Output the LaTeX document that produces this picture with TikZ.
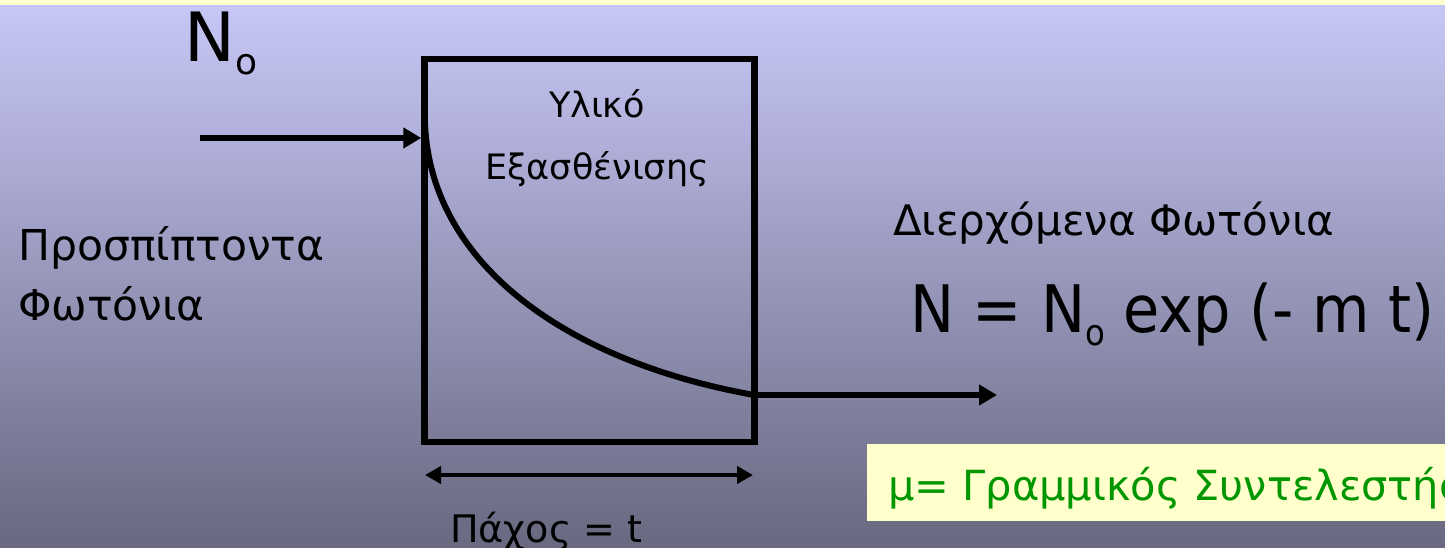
\documentclass[tikz,border=0pt]{standalone}
\usepackage{fontspec}
\setmainfont{DejaVu Sans}
\newfontfamily\condfont{DejaVu Sans Condensed}
\usetikzlibrary{arrows.meta}
\definecolor{bgtop}{RGB}{200,200,248}
\definecolor{bgbot}{RGB}{104,104,128}
\definecolor{paleyellow}{RGB}{255,255,204}
\definecolor{textgreen}{RGB}{0,150,0}
\tikzset{
  thick line/.style={line width=6.5pt, draw=black},
  arrowline/.style={line width=6pt, -{Triangle[length=18pt,width=20pt]}},
  dimline/.style={line width=4.5pt, {Triangle[length=16pt,width=17pt]}-{Triangle[length=16pt,width=17pt]}},
  lbl/.style={inner sep=0pt, anchor=base west, text=black},
  clbl/.style={inner sep=0pt, anchor=base, text=black},
}
\newcommand{\fs}[1]{\fontsize{#1}{#1}\selectfont}
\begin{document}
\begin{tikzpicture}[x=1pt,y=-1pt]
\useasboundingbox (0,0) rectangle (1445,548);
\clip (0,0) rectangle (1445,548);
\shade[top color=bgtop, bottom color=bgbot] (0,0) rectangle (1445,548);
\fill[paleyellow] (0,0) rectangle (1445,5);
% box
\node[thick line, minimum width=330pt, minimum height=383pt, inner sep=0pt] (box) at (589.5,250.5) {};
\node[clbl] (mat1) at (597,118) {\fs{35}Υλικό};
\node[clbl] (mat2) at (597,180) {\fs{35}Εξασθένισης};
% incoming
\node[lbl] (n0) at (184,62) {\fs{68}N\raisebox{-13pt}{\fs{36}o}};
\coordinate (in) at (200,138);
\draw[arrowline] (in) -- (in -| box.west);
\node[lbl] (inc1) at (18,260) {\fs{42.5}Προσπίπτοντα};
\node[lbl] (inc2) at (18,320) {\fs{42.5}Φωτόνια};
% curve
\coordinate (c0) at (425,123);
\coordinate (c1) at (754,395);
\coordinate (out) at (997,395);
\draw[line width=6pt] (c0) .. controls (430,260) and (560,360) .. (c1);
\draw[arrowline] (c1) -- (out);
\node[lbl] (tr1) at (893,235) {\fs{42}Διερχόμενα Φωτόνια};
\node[lbl] (eq) at (910,332) {\condfont\fs{65.5}N = N\raisebox{-13pt}{\fs{36}o} exp (- m t)};
% thickness
\coordinate (d0) at (425,475);
\coordinate (d1) at (753,475);
\draw[dimline] (d0) -- (d1);
\node[lbl] (thk) at (450,542) {\fs{38}Πάχος = t};
% note
\node[fill=paleyellow, minimum width=600pt, minimum height=77pt, anchor=north west, inner sep=0pt] (note) at (867,444) {};
\node[lbl, text=textgreen] (notetxt) at (888,500) {\fs{41.5}μ= Γραμμικός Συντελεστής Εξασθένισης};
\end{tikzpicture}
\end{document}
